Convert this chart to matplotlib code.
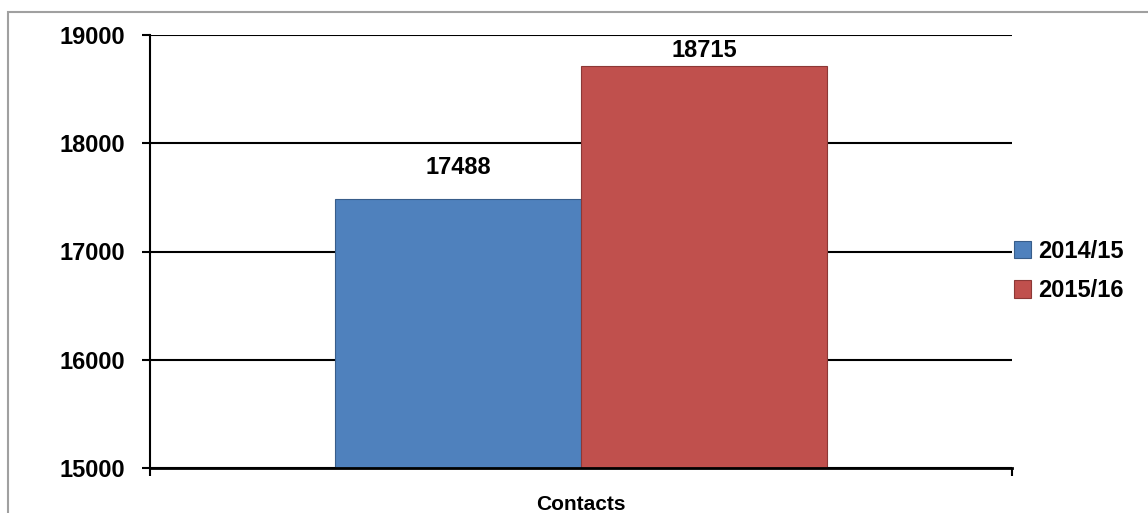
import matplotlib.pyplot as plt
from matplotlib.patches import Rectangle

categories = ["Contacts"]
series_names = ["2014/15", "2015/16"]
values_2014 = [17488]
values_2015 = [18715]
y_ticks = [15000, 16000, 17000, 18000, 19000]

blue = "#4F81BD"
red = "#C0504D"
plt.rcParams["font.family"] = ["Liberation Sans", "DejaVu Sans"]
plt.rcParams["font.weight"] = "bold"
FS = 17

fig = plt.figure(figsize=(11.48, 5.13), dpi=100)
fig.patch.set_facecolor("white")

# outer chart frame
fig.patches.append(Rectangle((8 / 1148, -0.2), 1.2, 0.2 + (1 - 12 / 513),
                             transform=fig.transFigure, fill=False,
                             edgecolor="#A0A0A0", linewidth=1.5))

ax = fig.add_axes([150 / 1148, 1 - 468 / 513, (1012 - 150) / 1148, (468 - 35) / 513])

width = 0.285
center = 0.5
bars1 = ax.bar(center - width / 2, values_2014[0], width, bottom=0,
               color=blue, edgecolor="#385D8A", linewidth=0.8, label=series_names[0], zorder=3)
bars2 = ax.bar(center + width / 2, values_2015[0], width, bottom=0,
               color=red, edgecolor="#8C3836", linewidth=0.8, label=series_names[1], zorder=3)

ax.set_ylim(y_ticks[0], y_ticks[-1])
ax.set_xlim(0, 1)
ax.set_yticks(y_ticks)
ax.set_yticklabels([str(t) for t in y_ticks], fontsize=FS, fontweight="bold")
ax.set_xticks([0, 1])
ax.set_xticklabels(["", ""])
ax.tick_params(axis="y", direction="out", length=6, width=1.5, pad=12, color="black")
ax.tick_params(axis="x", direction="out", length=6, width=1.5, color="black")
ax.yaxis.grid(True, color="black", linewidth=1.5, zorder=0)
ax.set_axisbelow(True)
for s in ["top", "right"]:
    ax.spines[s].set_visible(False)
ax.spines["left"].set_linewidth(1.5)
ax.spines["bottom"].set_linewidth(2)
ax.spines["bottom"].set_zorder(4)

# value labels above bars, kept inside the plot area
for b, v in [(bars1[0], values_2014[0]), (bars2[0], values_2015[0])]:
    ax.text(b.get_x() + b.get_width() / 2, min(v + 286, 18860), str(v),
            ha="center", va="center", fontsize=FS, fontweight="bold")

ax.text(center, 14610, categories[0], ha="center", va="baseline", fontsize=FS - 2,
        fontweight="bold", clip_on=False)

leg = ax.legend(loc="center left", frameon=False,
                prop={"size": FS, "weight": "bold"}, handlelength=0.75,
                handleheight=0.75, handletextpad=0.3, labelspacing=0.7, borderaxespad=0,
                borderpad=0)
leg.set_bbox_to_anchor((1.002, 0.455), transform=ax.transAxes)

fig.savefig("out.png", dpi=100)
